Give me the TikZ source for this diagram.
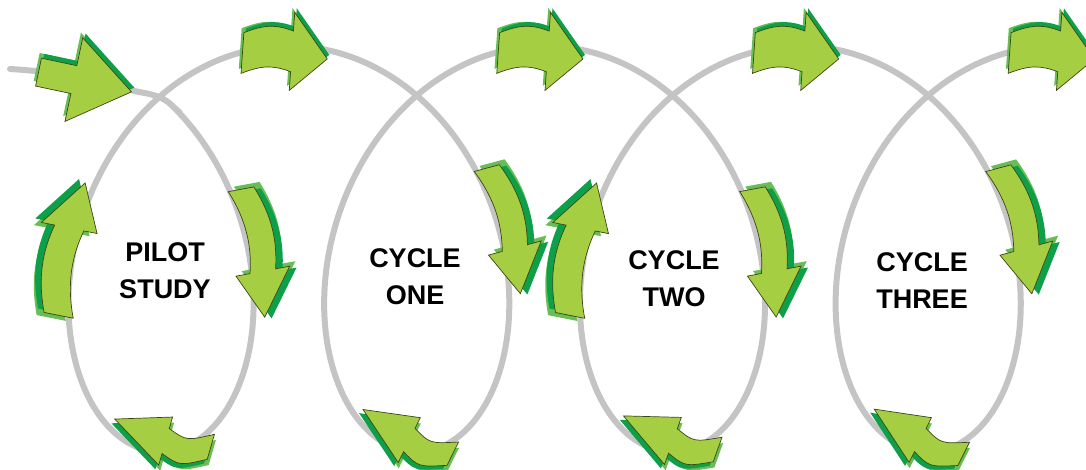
\documentclass[tikz,border=0pt]{standalone}
\usepackage{fontspec}
\setmainfont{Liberation Sans}

\definecolor{leafgreen}{RGB}{166,206,66}
\definecolor{leafdark}{RGB}{14,160,72}
\definecolor{leafmid}{RGB}{104,190,84}
\definecolor{leafline}{RGB}{58,70,24}
\definecolor{loopgrey}{RGB}{196,196,196}

% outline of one curved arrow, tail at x=-0.5, tip at x=0.5
\newcommand\leafpath[4]{(-0.5,-#1) -- (-0.5,#1)
  .. controls (-0.25,#1+#4) and (#2-0.2,#1+#4) .. (#2,#1+0.5*#4)
  -- (#2,#3+0.5*#4) -- (0.5,0) -- (#2,-#3+0.5*#4) -- (#2,-#1+0.5*#4)
  .. controls (#2-0.2,-#1+#4) and (-0.25,-#1+#4) .. (-0.5,-#1) -- cycle}

\tikzset{
  loopline/.style={draw=loopgrey, line width=6pt, line cap=round},
  looplabel/.style={font=\bfseries\fontsize{27}{37}\selectfont, align=center, text=black},
  pics/leafarrow/.style n args={4}{code={
    \fill[leafmid, shift={(-0.03,0.05)}] \leafpath{#1}{#2}{#3}{#4};
    \fill[leafdark, shift={(0.02,0.05)}] \leafpath{#1}{#2}{#3}{#4};
    \filldraw[fill=leafgreen, draw=leafline, line width=0.7pt] \leafpath{#1}{#2}{#3}{#4};
  }},
}

\begin{document}
\begin{tikzpicture}[x=1pt, y=1pt]
  \useasboundingbox (0,0) rectangle (1086,470);
  \clip (0,0) rectangle (1086,470);

  % the spiral
  \draw[loopline] (10,401) .. controls (60,398) and (100,390) .. (131,380)
    .. controls (143,376) and (159,377.6) .. (173,363.6)
    -- plot[domain=-2.35:22.4, samples=500, variable=\t, smooth]
    ({161+40.7*(\t)-151*sin(\t r)}, {221-203*cos(\t r)});

  % first arrow
  \pic[rotate=-12, scale=95] at (85,388) {leafarrow={0.15}{-0.12}{0.45}{0.0}};

  % arrows over the tops
  \foreach \t in {3.1416, 9.4248, 15.708, 21.991} {
    \pgfmathsetmacro\ax{161+40.7*(\t)-151*sin(\t r)}
    \pgfmathsetmacro\ay{221-203*cos(\t r)}
    \pic[rotate=-4, scale=85] at (\ax-4,\ay-10) {leafarrow={0.24}{0.08}{0.46}{0.12}};
  }

  % arrows down the right sides
  \foreach \t in {-1.55, 4.623, 11.016, 17.19} {
    \pgfmathsetmacro\ax{161+40.7*(\t)-151*sin(\t r)}
    \pgfmathsetmacro\ay{221-203*cos(\t r)}
    \pgfmathsetmacro\adir{atan2(203*sin(\t r), 40.7-151*cos(\t r))}
    \pic[rotate=\adir, scale=130] at (\ax+4,\ay) {leafarrow={0.1}{0.15}{0.21}{0.1}};
  }

  % arrows under the bottoms
  \foreach \t in {0.02, 6.40, 12.62, 18.97} {
    \pgfmathsetmacro\ax{161+40.7*(\t)-151*sin(\t r)}
    \pgfmathsetmacro\ay{221-203*cos(\t r)}
    \pgfmathsetmacro\adir{atan2(203*sin(\t r), 40.7-151*cos(\t r))-14}
    \pic[rotate=\adir, scale=100] at (\ax+4,\ay+19) {leafarrow={0.13}{-0.05}{0.25}{0.14}};
  }

  % arrows up the left sides
  \foreach \t in {1.57, 14.136} {
    \pgfmathsetmacro\ax{161+40.7*(\t)-151*sin(\t r)}
    \pgfmathsetmacro\ay{221-203*cos(\t r)}
    \pgfmathsetmacro\adir{atan2(203*sin(\t r), 40.7-151*cos(\t r))}
    \pic[rotate=\adir, scale=135] at (\ax-2,\ay) {leafarrow={0.11}{0.15}{0.21}{0.1}};
  }

  \node[looplabel] (pilot) at (165,199) {PILOT\\STUDY};
  \node[looplabel] (one)   at (415,193) {CYCLE\\ONE};
  \node[looplabel] (two)   at (674,191) {CYCLE\\TWO};
  \node[looplabel] (three) at (922,189) {CYCLE\\THREE};
\end{tikzpicture}
\end{document}
